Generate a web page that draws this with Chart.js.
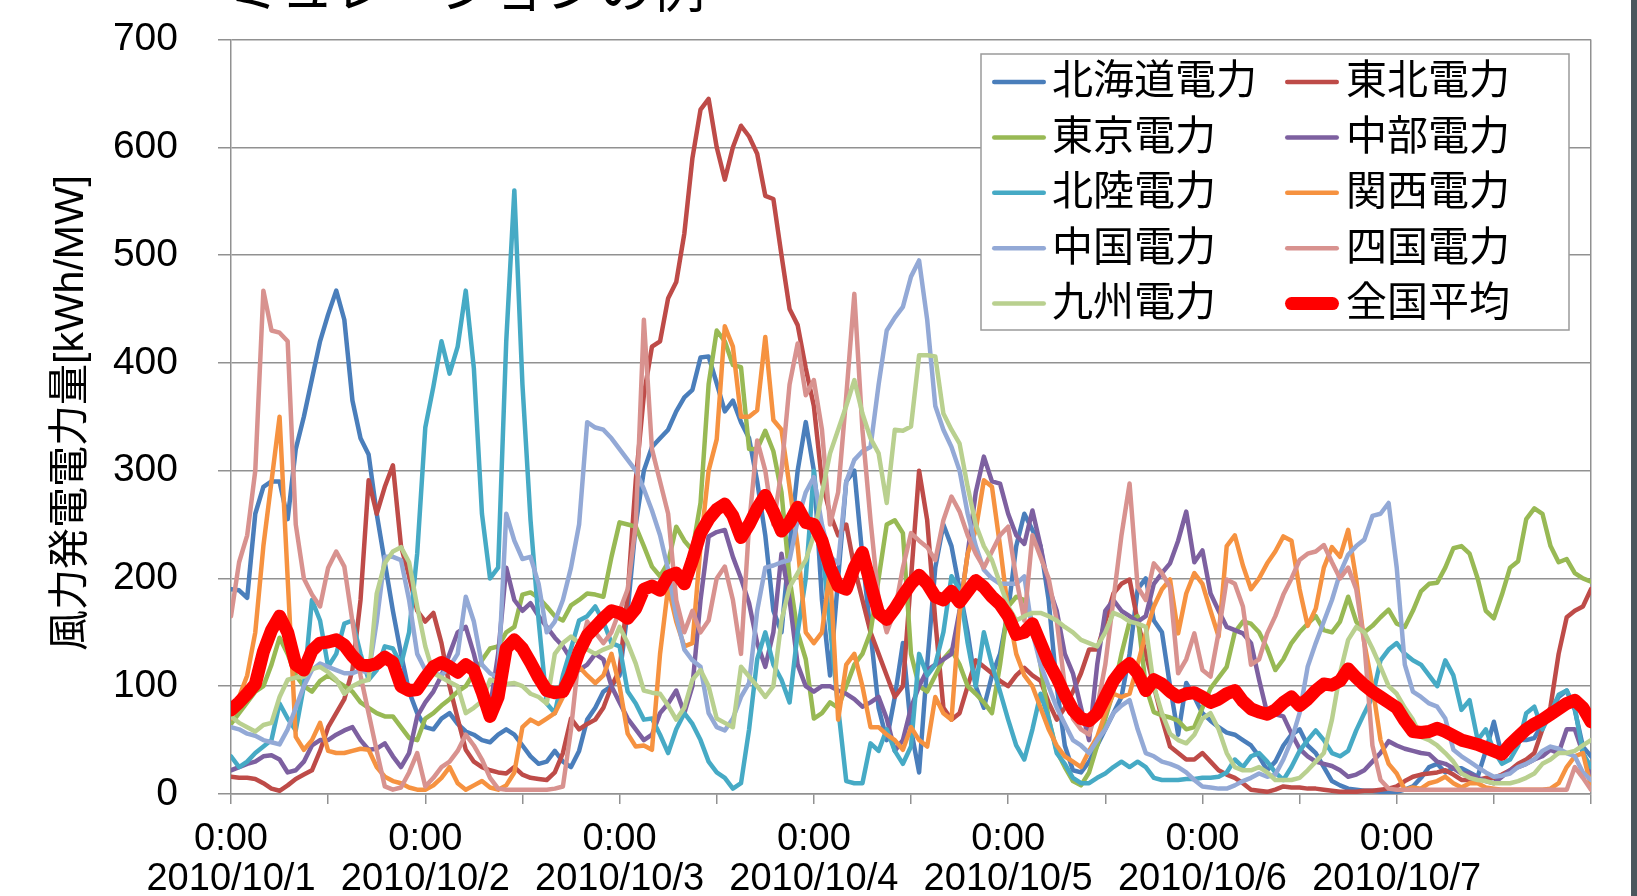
<!DOCTYPE html>
<html lang="ja">
<head>
<meta charset="utf-8">
<title>風力発電電力量</title>
<script src="https://cdn.jsdelivr.net/npm/chart.js@4.4.1/dist/chart.umd.min.js"></script>
<style>
  html, body { margin: 0; padding: 0; background: #fff; overflow: hidden; }
  #wrap { position: relative; width: 1637px; height: 896px; }
  #band { position: absolute; left: 1631px; top: 0; width: 6px; height: 896px; background: #4b575d; }
</style>
</head>
<body>
<div id="wrap">
  <canvas id="windChart" width="1637" height="896"></canvas>
  <div id="band"></div>
</div>
<script>
// hourly readings, 2010/10/1 0:00 .. 2010/10/8 0:00
const hours = Array.from({ length: 169 }, (_, i) => i);
const dayLabels = ['2010/10/1', '2010/10/2', '2010/10/3', '2010/10/4', '2010/10/5', '2010/10/6', '2010/10/7'];
const yTicks = [0, 100, 200, 300, 400, 500, 600, 700];

const hokkaido = [
  190,189,182,260,285,290,290,255,320,350,385,420,
  445,467,440,365,330,315,260,215,170,130,95,75,
  62,60,70,75,65,58,55,50,48,55,60,55,
  45,35,28,30,40,30,25,40,69,80,95,100,
  110,170,250,300,322,330,338,355,368,375,405,406,
  381,355,365,345,330,290,240,170,150,230,300,345,
  300,180,110,200,290,300,220,150,80,50,90,140,
  60,20,120,210,250,230,190,150,100,80,110,130,
  170,230,260,245,230,180,100,45,22,20,30,45,
  60,75,90,130,190,200,161,150,100,55,103,90,
  75,68,62,57,55,50,45,35,22,30,45,55,
  60,45,38,25,12,8,5,4,3,3,2,2,
  2,4,7,15,25,28,20,24,24,20,16,40,
  67,35,42,50,50,52,65,78,90,96,78,44,
  35
];
const tohoku = [
  16,15,15,14,10,5,3,8,14,18,22,40,
  62,75,88,115,180,291,260,285,305,230,202,170,
  160,168,140,100,70,41,30,25,22,20,19,25,
  18,15,14,13,20,38,70,60,65,69,80,100,
  115,185,291,370,415,420,460,475,520,590,635,645,
  600,570,600,620,610,594,555,552,500,450,435,395,
  360,290,260,240,250,210,180,150,130,110,90,100,
  200,300,254,161,80,69,75,100,124,118,112,105,
  100,110,117,110,105,85,69,80,95,112,134,134,
  160,186,195,199,160,130,100,70,44,38,32,32,
  38,30,22,18,15,10,4,3,2,4,7,6,
  6,5,5,4,3,2,2,2,3,3,4,5,
  7,12,16,18,19,20,22,18,13,13,13,15,
  15,18,22,28,32,38,60,81,130,164,170,174,
  190
];
const tokyo = [
  65,75,85,95,100,120,145,130,110,100,95,105,
  110,105,100,95,85,80,75,72,72,62,52,50,
  70,75,82,88,95,100,112,124,135,137,150,155,
  185,187,182,174,165,161,175,180,186,185,183,220,
  252,250,248,230,211,202,215,248,235,226,270,380,
  430,420,398,396,320,320,337,318,280,200,150,125,
  70,75,85,80,100,120,130,150,200,250,254,242,
  130,100,95,110,125,134,120,100,93,85,75,120,
  174,183,180,160,120,70,40,25,12,8,20,45,
  70,95,130,160,165,100,76,73,71,68,60,62,
  80,98,108,118,150,160,158,150,135,115,125,140,
  150,158,165,152,150,160,183,160,150,156,164,171,
  158,155,170,188,195,196,210,228,230,223,200,170,
  163,185,210,216,255,265,260,230,215,218,205,200,
  197
];
const chubu = [
  22,25,28,30,35,36,32,20,22,30,45,50,
  50,55,59,62,50,41,42,47,35,25,38,72,
  85,95,110,130,150,155,130,100,80,130,210,180,
  170,177,165,155,145,137,125,115,120,130,125,100,
  85,70,60,50,55,75,84,96,75,100,180,239,
  243,245,220,200,177,140,118,150,223,180,120,100,
  95,100,100,96,93,88,81,85,90,70,40,50,
  80,100,115,120,125,130,170,223,280,313,290,288,
  260,240,232,263,230,192,170,130,112,80,50,120,
  170,180,170,165,160,165,195,205,214,235,262,215,
  226,186,170,155,152,149,140,106,75,74,72,56,
  42,35,30,28,26,22,16,18,22,30,38,49,
  45,42,40,38,37,30,28,24,19,19,15,12,
  10,16,22,25,28,32,35,41,38,60,60,38,
  19
];
const hokuriku = [
  35,25,30,38,44,50,84,70,59,100,180,161,
  118,130,158,161,130,106,115,137,135,120,150,223,
  340,378,420,390,415,467,395,260,200,210,420,560,
  380,254,161,84,75,110,135,161,165,174,160,140,
  137,95,84,69,70,55,38,60,75,65,50,30,
  20,15,5,10,60,125,150,120,106,85,150,200,
  300,230,155,80,12,10,10,47,40,60,40,28,
  44,130,110,120,150,202,190,140,100,150,120,95,
  69,45,32,60,93,70,38,28,15,10,10,15,
  19,25,30,25,30,25,15,13,13,13,14,14,
  15,15,16,20,32,25,35,38,30,20,13,25,
  40,50,59,50,38,35,40,59,75,90,124,134,
  140,130,124,120,110,100,124,110,78,87,50,60,
  40,28,32,45,75,81,60,75,92,96,80,38,
  25
];
const kansai = [
  70,90,110,150,230,290,350,200,53,41,50,66,
  40,38,38,40,42,41,25,16,12,10,6,4,
  4,8,15,25,10,4,8,12,6,4,8,20,
  62,69,65,70,75,90,103,118,110,103,110,130,
  100,56,44,45,41,130,192,160,137,140,230,300,
  329,434,415,350,350,356,424,347,338,285,230,150,
  140,150,208,69,120,130,100,62,62,55,50,41,
  62,50,44,90,75,69,168,223,245,291,285,230,
  170,130,110,100,80,60,45,35,30,25,40,53,
  75,93,90,93,120,149,174,190,199,149,186,205,
  195,170,146,230,240,212,190,200,214,225,239,235,
  190,156,172,210,229,220,245,199,140,100,50,28,
  19,4,6,5,10,12,16,10,6,10,10,6,
  5,4,4,4,4,4,4,5,10,25,35,38,
  7
];
const chugoku = [
  62,60,56,54,50,48,46,60,80,100,115,121,
  118,115,112,112,115,112,160,220,220,217,180,130,
  115,112,110,118,130,183,160,120,112,108,260,235,
  218,220,195,150,160,180,210,250,345,340,338,330,
  320,310,300,283,263,240,208,165,134,124,118,75,
  62,59,70,90,103,170,210,212,215,217,254,280,
  294,250,220,214,290,310,318,322,380,430,442,452,
  480,495,440,360,338,322,300,260,230,208,200,195,
  195,195,202,150,120,100,80,65,50,45,38,50,
  60,75,82,87,60,38,35,30,28,25,20,13,
  7,6,5,5,8,12,15,19,16,18,32,50,
  75,118,140,160,180,205,222,230,236,258,260,270,
  210,120,95,90,84,81,70,41,35,30,25,20,
  16,17,19,25,28,32,40,44,42,38,35,20,
  13
];
const shikoku = [
  165,215,240,300,467,430,428,420,250,200,185,174,
  210,225,211,160,110,75,40,7,4,6,20,38,
  7,15,25,30,40,55,45,32,15,5,4,4,
  4,4,4,4,5,7,60,130,160,150,140,150,
  170,190,250,440,320,290,260,180,150,170,150,161,
  200,211,180,130,250,328,300,250,300,380,418,370,
  384,338,250,280,369,464,338,254,180,150,170,210,
  242,235,229,217,254,276,262,240,223,210,225,240,
  248,200,161,240,220,200,161,100,70,60,55,80,
  120,180,240,288,192,180,214,205,192,112,125,149,
  115,109,150,199,195,174,120,125,149,165,185,200,
  217,223,225,231,215,200,210,190,140,45,13,5,
  4,4,4,4,4,4,4,4,4,4,4,4,
  4,4,4,4,4,4,4,4,4,4,25,15,
  4
];
const kyushu = [
  72,66,62,58,64,66,90,106,108,109,116,118,
  113,106,93,100,104,106,186,214,225,229,215,174,
  137,112,108,104,100,75,80,86,106,104,102,103,
  100,93,90,84,130,140,146,140,134,130,134,137,
  155,140,121,96,94,93,82,69,80,106,115,100,
  70,66,62,118,109,100,90,100,161,192,205,217,
  240,279,316,338,360,384,353,330,316,270,338,337,
  341,407,407,406,353,338,325,285,250,230,217,195,
  174,161,165,168,168,165,161,155,150,143,140,137,
  150,168,165,160,158,155,100,75,56,50,47,55,
  70,75,60,38,25,22,22,25,20,13,13,13,
  15,22,30,38,69,112,143,155,150,135,118,100,
  93,80,69,53,50,45,38,30,19,15,13,12,
  10,10,10,12,15,19,28,32,38,38,40,45,
  50
];
const nationalAvg = [
  78,85,93,102,132,152,165,150,120,115,133,140,
  141,143,138,128,120,119,121,127,122,100,96,97,
  108,118,122,118,113,120,115,95,72,90,135,143,
  135,122,108,96,94,95,110,132,147,155,163,170,
  168,163,172,190,193,189,202,205,195,217,242,255,
  264,269,258,238,250,265,277,262,244,252,266,252,
  250,235,210,193,190,210,224,195,168,162,172,184,
  195,203,195,183,180,188,178,188,198,192,183,176,
  165,148,150,158,140,122,108,92,78,70,68,75,
  90,105,115,121,112,96,106,102,95,90,93,94,
  90,85,88,93,96,86,79,76,74,78,85,90,
  82,88,96,102,101,105,116,108,101,95,90,85,
  80,68,58,57,58,61,58,54,50,48,46,43,
  40,37,46,53,60,65,69,74,79,84,87,80,
  67
];

const seriesNames = ['北海道電力', '東北電力', '東京電力', '中部電力', '北陸電力',
                     '関西電力', '中国電力', '四国電力', '九州電力', '全国平均'];
const seriesColors = ['#4A7EBB', '#BE4B48', '#98B954', '#7D60A0', '#46AAC5',
                      '#F69240', '#93A9D6', '#D8928F', '#B9D08F', '#FF0000'];
const seriesValues = [hokkaido, tohoku, tokyo, chubu, hokuriku,
                      kansai, chugoku, shikoku, kyushu, nationalAvg];

const yTitle = '風力発電電力量[kWh/MW]';
const slideTitle = 'ミュレーションの例';

const gridGray = '#919191';
const jpFont = '"Liberation Sans", "Noto Sans CJK JP", sans-serif';

Chart.defaults.font.family = jpFont;
Chart.defaults.color = '#000';

// y title, cut-off slide title and the two-column legend box
const decorations = {
  id: 'decorations',
  afterDraw(chart) {
    const ctx = chart.ctx;
    ctx.save();
    ctx.fillStyle = '#000';
    ctx.font = '53px "Noto Sans CJK JP", sans-serif';
    ctx.textAlign = 'left';
    ctx.textBaseline = 'alphabetic';
    ctx.fillText(slideTitle, 228, 8);

    ctx.save();
    ctx.translate(72, 413);
    ctx.rotate(-Math.PI / 2);
    ctx.font = '41px ' + jpFont;
    ctx.textAlign = 'center';
    ctx.textBaseline = 'middle';
    ctx.fillText(yTitle, 0, 0);
    ctx.restore();

    // legend
    ctx.fillStyle = '#fff';
    ctx.fillRect(981, 54, 588, 276);
    ctx.strokeStyle = '#9a9a9a';
    ctx.lineWidth = 1.5;
    ctx.strokeRect(981, 54, 588, 276);
    ctx.font = '41px ' + jpFont;
    ctx.textBaseline = 'middle';
    chart.data.datasets.forEach((ds, i) => {
      const col = i % 2;
      const row = Math.floor(i / 2);
      const y = 82 + row * 55.4;
      const x0 = col === 0 ? 992 : 1285;
      const w = ds.borderWidth;
      ctx.beginPath();
      ctx.moveTo(x0 + w / 2, y);
      ctx.lineTo(x0 + 54 - w / 2, y);
      ctx.strokeStyle = ds.borderColor;
      ctx.lineWidth = w;
      ctx.lineCap = 'round';
      ctx.stroke();
      ctx.fillStyle = '#000';
      ctx.fillText(ds.label, x0 + (col === 0 ? 60 : 61), y + 1);
    });
    ctx.restore();
  }
};

const datasets = seriesNames.map((name, i) => ({
  label: name,
  data: seriesValues[i],
  borderColor: seriesColors[i],
  backgroundColor: seriesColors[i],
  borderWidth: i === 9 ? 13 : 4.5,
  pointRadius: 0,
  tension: 0,
  fill: false,
  borderJoinStyle: 'round',
  borderCapStyle: 'round',
  order: seriesNames.length - i,
}));

new Chart(document.getElementById('windChart'), {
  type: 'line',
  data: { labels: hours, datasets },
  options: {
    responsive: false,
    animation: false,
    events: [],
    layout: { padding: { left: 0, right: 46, top: 39.5, bottom: 0 } },
    plugins: {
      legend: { display: false },
      tooltip: { enabled: false },
    },
    scales: {
      x: {
        type: 'linear',
        min: 0,
        max: 168,
        afterFit: (scale) => {
          scale.height = 102;
          scale.paddingLeft = 0;
          scale.paddingRight = 0;
        },
        ticks: {
          stepSize: 12,
          maxTicksLimit: 20,
          autoSkip: false,
          maxRotation: 0,
          padding: 16,
          font: { size: 38, lineHeight: 1.05 },
          callback: (v) => (v % 24 === 0 && v < 168 ? ['0:00', dayLabels[v / 24]] : ''),
        },
        grid: {
          drawOnChartArea: true,
          color: (c) => (c.tick && c.tick.value === 168 ? gridGray : 'rgba(0,0,0,0)'),
          tickColor: gridGray,
          tickLength: 10,
          lineWidth: 1.5,
        },
        border: { color: gridGray, width: 1.5 },
      },
      y: {
        min: 0,
        max: 700,
        afterFit: (scale) => {
          scale.width = 231;
          scale.paddingTop = 0;
          scale.paddingBottom = 0;
        },
        afterBuildTicks: (scale) => { scale.ticks = yTicks.map((v) => ({ value: v })); },
        ticks: { padding: 40, font: { size: 39 } },
        grid: { color: gridGray, lineWidth: 1.5, tickLength: 13 },
        border: { color: gridGray, width: 1.5 },
      },
    },
  },
  plugins: [decorations],
});
</script>
</body>
</html>
